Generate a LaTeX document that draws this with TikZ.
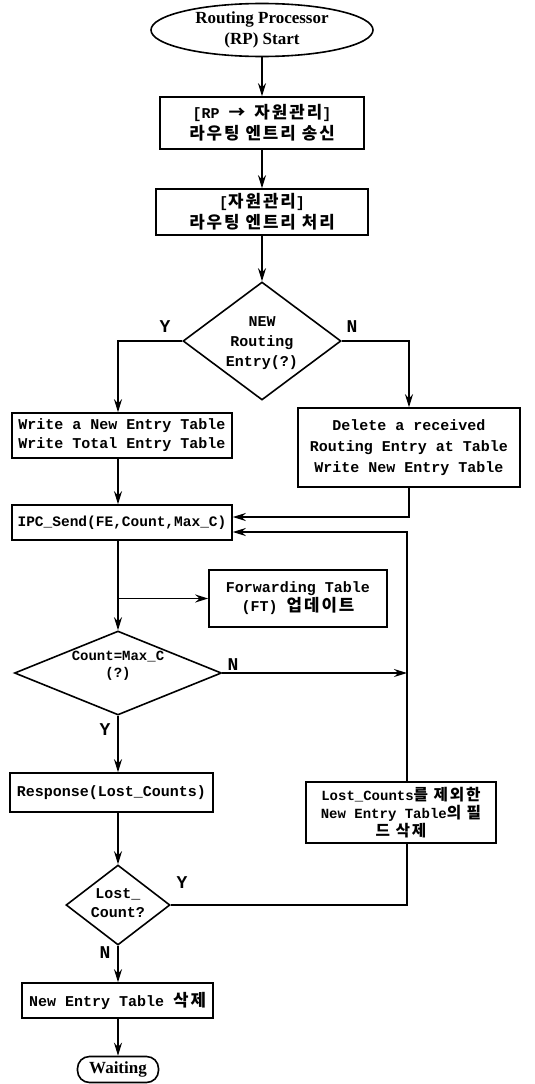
\documentclass[tikz,border=0pt]{standalone}
\usepackage{fontspec}
\setmainfont{Liberation Mono}
\newfontfamily\krfont[LetterSpace=12,Scale=1.12]{Noto Sans CJK KR}
\newfontfamily\serifb{Liberation Serif}
\usetikzlibrary{shapes.geometric,arrows.meta}
\newcommand\K[1]{{\krfont\bfseries #1}}

\begin{document}
\begin{tikzpicture}[x=1pt,y=-1pt,line width=1.6pt,
  every node/.style={font=\bfseries\fontsize{15}{19}\selectfont},
  box/.style={draw,rectangle,inner sep=0pt,align=center},
  term/.style={draw,ellipse,inner sep=0pt,align=center,
    font=\serifb\bfseries\fontsize{17}{21}\selectfont},
  pill/.style={draw,rectangle,rounded corners=12pt,inner sep=0pt,
    font=\serifb\bfseries\fontsize{17}{19}\selectfont},
  dia/.style={draw,diamond,inner sep=0pt},
  dtext/.style={align=center,inner sep=0pt},
  yn/.style={font=\bfseries\fontsize{18}{18}\selectfont,inner sep=0pt},
  arr/.style={-{Stealth[length=13pt,width=8pt]}}]
\useasboundingbox (0,0) rectangle (535,1084);

% axis lines used by the connectors
\coordinate (axis) at (118,0);
\coordinate (loopx) at (407,0);

% top column
\node[term,minimum width=222pt,minimum height=53pt] (start) at (262,30)
  {Routing Processor\\(RP) Start};
\node[box,minimum width=204pt,minimum height=52pt,
  font=\bfseries\fontsize{15}{21}\selectfont] (b1) at (262,123)
  {[RP \K{→} \K{자원관리}]\\\K{라우팅 엔트리 송신}};
\node[box,minimum width=212pt,minimum height=46pt,
  font=\bfseries\fontsize{15}{21}\selectfont] (b2) at (262,212)
  {[\K{자원관리}]\\\K{라우팅 엔트리 처리}};
\node[dia,minimum width=158pt,minimum height=118pt] (d1) at (262,341) {};
\node[dtext,font=\bfseries\fontsize{15}{20}\selectfont] at (262,343)
  {NEW\\Routing\\Entry(?)};

% two branches
\node[box,minimum width=220pt,minimum height=45pt] (wb) at (122,435.5)
  {Write a New Entry Table\\Write Total Entry Table};
\node[box,minimum width=222pt,minimum height=79pt,
  font=\bfseries\fontsize{15}{21}\selectfont] (rb) at (409,447.5)
  {Delete a received\\Routing Entry at Table\\Write New Entry Table};

% send loop
\node[box,minimum width=220pt,minimum height=35pt,
  font=\bfseries\fontsize{14.5}{17}\selectfont] (ipc) at (122,522.5)
  {IPC\_Send(FE,Count,Max\_C)};
\node[box,minimum width=178pt,minimum height=57pt] (ft) at (298,598.5)
  {Forwarding Table\\(FT) \K{업데이트}};
\node[dia,minimum width=207pt,minimum height=84pt] (cnt) at (118,673) {};
\node[dtext,font=\bfseries\fontsize{14}{17}\selectfont] at (118,666)
  {Count=Max\_C\\(?)};
\node[box,minimum width=203pt,minimum height=39pt] (resp) at (111.5,792.5)
  {Response(Lost\_Counts)};
\node[box,minimum width=190pt,minimum height=61pt,
  font=\bfseries\fontsize{14}{18}\selectfont] (lost) at (401,812.5)
  {Lost\_Counts\K{를 제외한}\\New Entry Table\K{의 필}\\\K{드 삭제}};
\node[dia,minimum width=104pt,minimum height=80pt] (lc) at (118,905) {};
\node[dtext] at (118,903) {Lost\_\\Count?};
\node[box,minimum width=191pt,minimum height=35pt] (del) at (117.5,1000.5)
  {New Entry Table \K{삭제}};
\node[pill,minimum width=81pt,minimum height=26pt] (wait) at (118,1069.5)
  {Waiting};

% connectors
\draw[arr] (start) -- (b1);
\draw[arr] (b1) -- (b2);
\draw[arr] (b2) -- (d1);
\draw[arr] (d1.west) -| (wb.north -| axis);
\draw[arr] (d1.east) -| (rb.north);
\draw[arr] (wb.south -| axis) -- (ipc.north -| axis);
\draw[arr] (rb.south) |- ([yshift=5.5pt]ipc.east);
\draw[arr] (ipc.south -| axis) -- (cnt.north);
\draw[arr] (axis |- ft.west) -- (ft.west);
\draw[arr] (cnt.east) -- (cnt.east -| loopx);
\draw[arr] (cnt.south) -- (resp.north -| axis);
\draw[arr] (lost.north -| loopx) |- ([yshift=-9.5pt]ipc.east);
\draw[arr] (resp.south -| axis) -- (lc.north);
\draw (lc.east) -| (lost.south -| loopx);
\draw[arr] (lc.south) -- (del.north -| axis);
\draw[arr] (del.south -| axis) -- (wait.north);

% branch labels
\node[yn] at (165,327) {Y};
\node[yn] at (352,327) {N};
\node[yn] at (233,665) {N};
\node[yn] at (105,730) {Y};
\node[yn] at (182,883) {Y};
\node[yn] at (105,953) {N};
\end{tikzpicture}
\end{document}
